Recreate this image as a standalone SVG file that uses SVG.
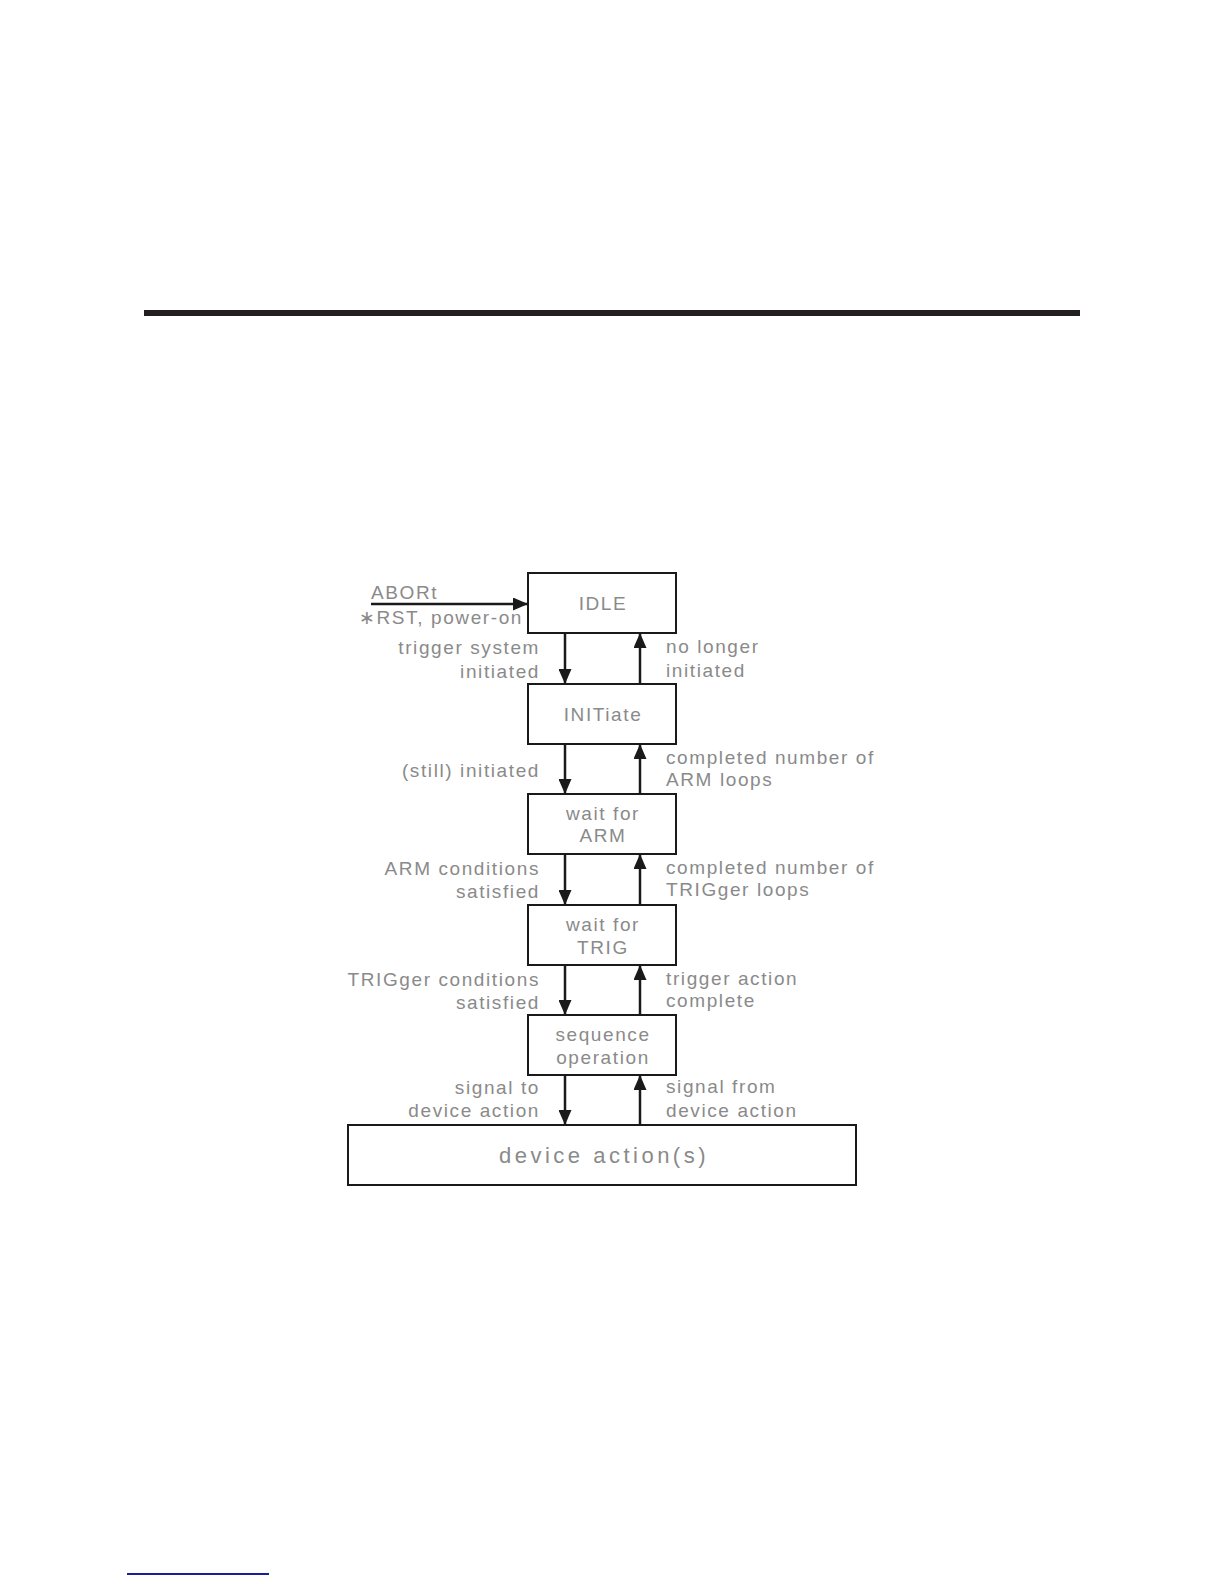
<svg xmlns="http://www.w3.org/2000/svg" width="1224" height="1584" viewBox="0 0 1224 1584">
<style>
.bg{fill:#ffffff}
.box{fill:#ffffff;stroke:#1a1a1a;stroke-width:2}
.t{font-family:"Liberation Sans","DejaVu Sans",sans-serif;font-size:19px;fill:#8a8a8a;letter-spacing:1.6px}
.big{font-size:22px;letter-spacing:3.5px}
.c{text-anchor:middle}
.r{text-anchor:end}
.con{stroke:#1a1a1a;stroke-width:2.5;fill:none}
</style>
<defs>
<marker id="ah" markerWidth="15" markerHeight="13" refX="15" refY="6.5" orient="auto" markerUnits="userSpaceOnUse">
<path d="M0,0 L15,6.5 L0,13 z" fill="#1a1a1a"/>
</marker>
</defs>
<rect class="bg" x="0" y="0" width="1224" height="1584"/>
<rect x="144" y="310" width="936" height="6" fill="#231f20"/>
<line x1="127" y1="1574" x2="269" y2="1574" stroke="#1c1c9c" stroke-width="2"/>

<g id="connectors">
<line class="con" x1="371" y1="604" x2="528" y2="604" marker-end="url(#ah)"/>
<line class="con" x1="565" y1="633" x2="565" y2="684" marker-end="url(#ah)"/>
<line class="con" x1="640" y1="684" x2="640" y2="633" marker-end="url(#ah)"/>
<line class="con" x1="565" y1="744" x2="565" y2="794" marker-end="url(#ah)"/>
<line class="con" x1="640" y1="794" x2="640" y2="744" marker-end="url(#ah)"/>
<line class="con" x1="565" y1="854" x2="565" y2="905" marker-end="url(#ah)"/>
<line class="con" x1="640" y1="905" x2="640" y2="854" marker-end="url(#ah)"/>
<line class="con" x1="565" y1="965" x2="565" y2="1015" marker-end="url(#ah)"/>
<line class="con" x1="640" y1="1015" x2="640" y2="965" marker-end="url(#ah)"/>
<line class="con" x1="565" y1="1075" x2="565" y2="1125" marker-end="url(#ah)"/>
<line class="con" x1="640" y1="1125" x2="640" y2="1075" marker-end="url(#ah)"/>
<text class="t" x="371" y="599">ABORt</text>
<text class="t" x="359" y="624">∗RST, power-on</text>
<text class="t r" x="540" y="654">trigger system</text>
<text class="t r" x="540" y="678">initiated</text>
<text class="t" x="666" y="653">no longer</text>
<text class="t" x="666" y="677">initiated</text>
<text class="t r" x="540" y="777">(still) initiated</text>
<text class="t" x="666" y="764">completed number of</text>
<text class="t" x="666" y="786">ARM loops</text>
<text class="t r" x="540" y="875">ARM conditions</text>
<text class="t r" x="540" y="898">satisfied</text>
<text class="t" x="666" y="874">completed number of</text>
<text class="t" x="666" y="896">TRIGger loops</text>
<text class="t r" x="540" y="986">TRIGger conditions</text>
<text class="t r" x="540" y="1009">satisfied</text>
<text class="t" x="666" y="985">trigger action</text>
<text class="t" x="666" y="1007">complete</text>
<text class="t r" x="540" y="1094">signal to</text>
<text class="t r" x="540" y="1117">device action</text>
<text class="t" x="666" y="1093">signal from</text>
<text class="t" x="666" y="1117">device action</text>
</g>

<g id="idle">
<rect class="box" x="528" y="573" width="148" height="60"/>
<text class="t c" x="603" y="610">IDLE</text>
</g>
<g id="initiate">
<rect class="box" x="528" y="684" width="148" height="60"/>
<text class="t c" x="603" y="721">INITiate</text>
</g>
<g id="wait-arm">
<rect class="box" x="528" y="794" width="148" height="60"/>
<text class="t c" x="603" y="820">wait for</text>
<text class="t c" x="603" y="842">ARM</text>
</g>
<g id="wait-trig">
<rect class="box" x="528" y="905" width="148" height="60"/>
<text class="t c" x="603" y="931">wait for</text>
<text class="t c" x="603" y="954">TRIG</text>
</g>
<g id="sequence">
<rect class="box" x="528" y="1015" width="148" height="60"/>
<text class="t c" x="603" y="1041">sequence</text>
<text class="t c" x="603" y="1064">operation</text>
</g>
<g id="device">
<rect class="box" x="348" y="1125" width="508" height="60"/>
<text class="t big c" x="604" y="1163">device action(s)</text>
</g>
</svg>
